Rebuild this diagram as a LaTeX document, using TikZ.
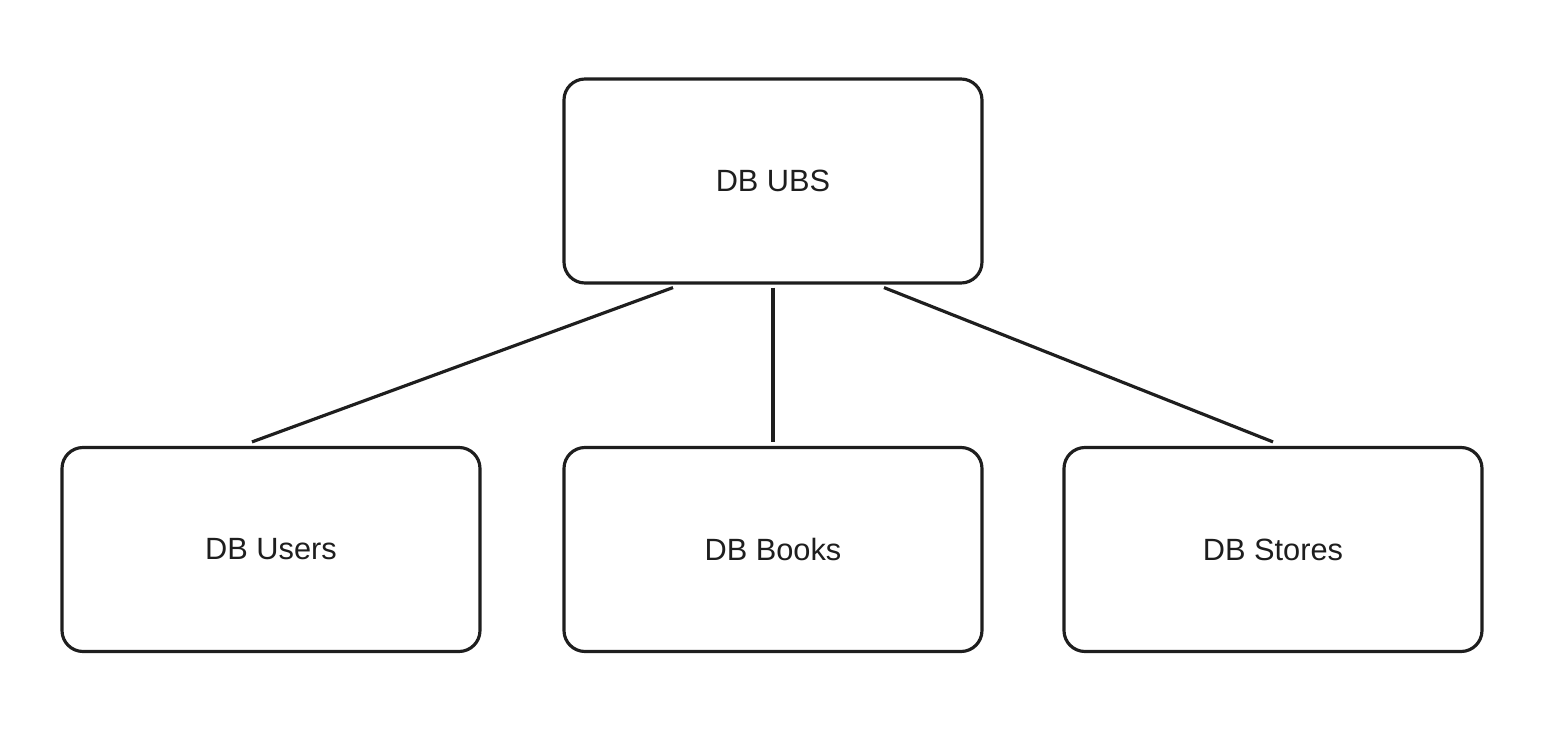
\documentclass[tikz,border=0pt]{standalone}
\usepackage{fontspec}
\setmainfont{Liberation Sans}
\usetikzlibrary{positioning}
\definecolor{ink}{HTML}{1E1E1E}

\begin{document}
\begin{tikzpicture}[db/.style={draw=ink, line width=1.8pt, rounded corners=0.42cm,
        minimum width=8.36cm, minimum height=4.08cm, text=ink, font=\fontsize{17.5}{20}\selectfont}]
            \useasboundingbox (0,0) rectangle (30.96,-15.04); % keep page size
            \node[db]   (db_ubs)    at (15.46,-3.62)   {DB UBS};
            \node[db]   (db_users)  at (5.42,-10.99)   {DB Users};
            \node[db]   (db_books)  at (15.46,-10.99)  {DB Books};
            \node[db]   (db_stores) at (25.46,-10.99)  {DB Stores};
            \path[draw=ink, line width=1.8pt]
            ([xshift=-2cm,yshift=-0.06cm]db_ubs.south) edge ([xshift=-0.38cm,yshift=0.08cm]db_users.north)
            ([yshift=-0.06cm]db_ubs.south) edge ([yshift=0.08cm]db_books.north)
            ([xshift=2.22cm,yshift=-0.06cm]db_ubs.south) edge ([yshift=0.08cm]db_stores.north);
        \end{tikzpicture}
\end{document}
